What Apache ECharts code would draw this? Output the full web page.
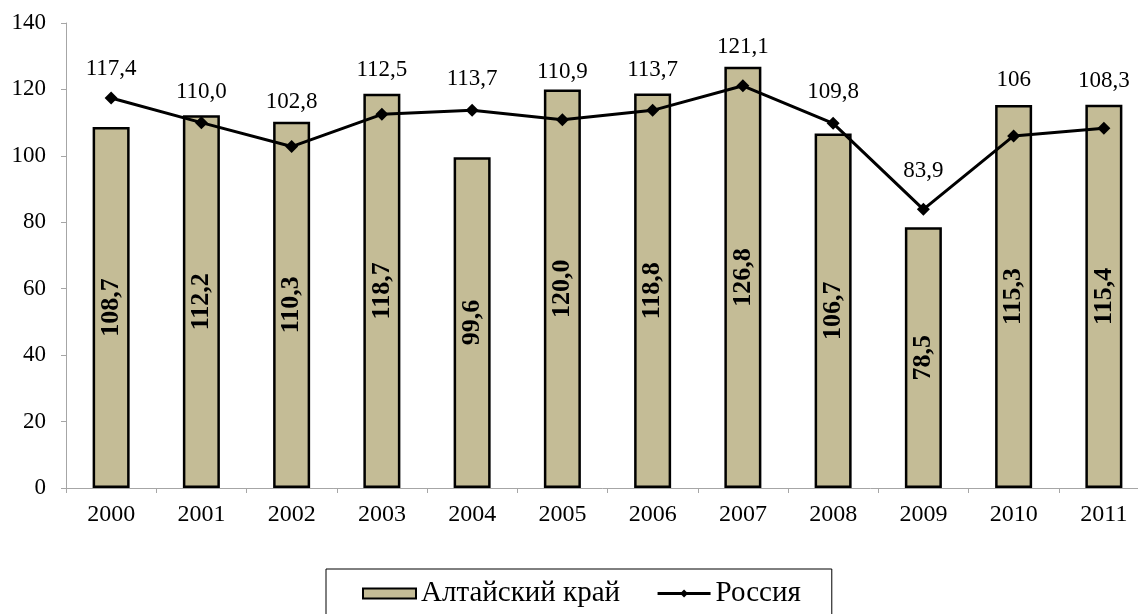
<!DOCTYPE html>
<html>
<head>
<meta charset="utf-8">
<style>
  html, body { margin: 0; padding: 0; background: #fff; }
  #chart { width: 1138px; height: 614px; }
</style>
<script src="https://cdn.jsdelivr.net/npm/echarts@6/dist/echarts.min.js"></script>
</head>
<body>
<div id="chart"></div>
<script>
const years = ['2000', '2001', '2002', '2003', '2004', '2005', '2006', '2007', '2008', '2009', '2010', '2011'];
const altaiValues = [108.7, 112.2, 110.3, 118.7, 99.6, 120.0, 118.8, 126.8, 106.7, 78.5, 115.3, 115.4];
const altaiLabels = ['108,7', '112,2', '110,3', '118,7', '99,6', '120,0', '118,8', '126,8', '106,7', '78,5', '115,3', '115,4'];
const russiaValues = [117.4, 110.0, 102.8, 112.5, 113.7, 110.9, 113.7, 121.1, 109.8, 83.9, 106, 108.3];
const russiaLabels = ['117,4', '110,0', '102,8', '112,5', '113,7', '110,9', '113,7', '121,1', '109,8', '83,9', '106', '108,3'];

const font = '"Liberation Serif", "Times New Roman", serif';
const axisGray = '#a6a6a6';

// labels of the line were dragged by hand in the original, px above the point
const russiaLabelLift = [29, 31, 45, 44, 31, 48, 40, 39, 31, 38, 56, 47];

const chart = echarts.init(document.getElementById('chart'));

const option = {
  backgroundColor: '#fff',
  animation: false,
  textStyle: { fontFamily: font, color: '#000' },
  grid: { left: 66, top: 23, bottom: 126, width: 1083, outerBoundsMode: 'none', containLabel: false },
  legend: {
    left: 326,
    top: 569,
    padding: [10, 31, 40, 36],
    borderColor: '#000',
    borderWidth: 1,
    itemGap: 36,
    itemWidth: 53,
    itemHeight: 10,
    textStyle: { fontFamily: font, fontSize: 29, color: '#000' },
    data: [
      { name: 'Алтайский край', icon: 'rect', itemStyle: { color: '#c4bc96', borderColor: '#000', borderWidth: 2 } },
      { name: 'Россия', lineStyle: { color: '#000', width: 3 } }
    ]
  },
  xAxis: {
    type: 'category',
    data: years,
    axisLine: { lineStyle: { color: axisGray, width: 1 } },
    axisTick: { show: true, alignWithLabel: false, length: 5, lineStyle: { color: axisGray } },
    axisLabel: { fontFamily: font, fontSize: 24, color: '#000', margin: 15 },
    splitLine: { show: false }
  },
  yAxis: {
    type: 'value',
    min: 0,
    max: 140,
    interval: 20,
    axisLine: { show: true, lineStyle: { color: axisGray, width: 1 } },
    axisTick: { show: true, length: 5, lineStyle: { color: axisGray } },
    axisLabel: { fontFamily: font, fontSize: 23, color: '#000', margin: 20 },
    splitLine: { show: false }
  },
  series: [
    {
      name: 'Алтайский край',
      type: 'bar',
      data: altaiValues,
      barWidth: '41%',
      itemStyle: { color: '#c4bc96', borderColor: '#000', borderWidth: 2.5 },
      label: {
        show: true,
        position: 'inside',
        rotate: 90,
        fontFamily: font,
        fontSize: 26,
        fontWeight: 'bold',
        color: '#000',
        formatter: (p) => altaiLabels[p.dataIndex]
      },
      z: 2
    },
    {
      name: 'Россия',
      type: 'line',
      data: russiaValues.map((v, i) => ({
        value: v,
        label: { offset: [0, -russiaLabelLift[i]] }
      })),
      symbol: 'diamond',
      symbolSize: 13,
      itemStyle: { color: '#000' },
      lineStyle: { color: '#000', width: 3 },
      label: {
        show: true,
        position: 'inside',
        fontFamily: font,
        fontSize: 23,
        color: '#000',
        formatter: (p) => russiaLabels[p.dataIndex]
      },
      z: 3
    }
  ]
};

chart.setOption(option);
window.addEventListener('resize', () => chart.resize());
</script>
</body>
</html>
